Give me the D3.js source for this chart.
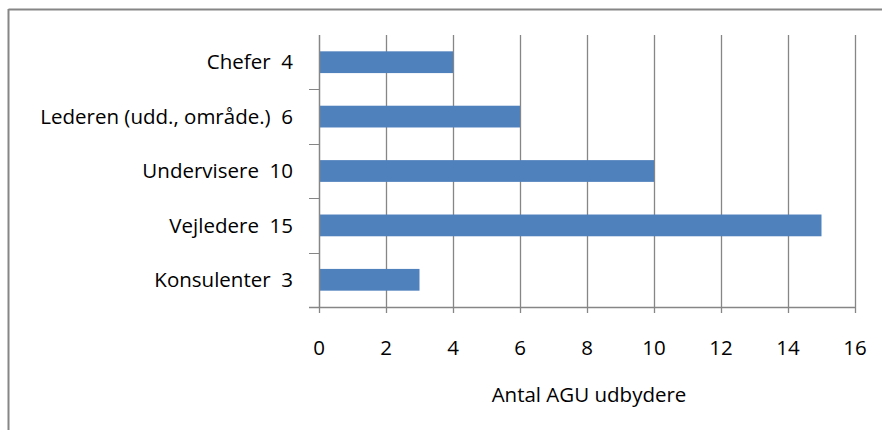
<!DOCTYPE html>
<html>
<head>
<meta charset="utf-8">
<script src="https://cdn.jsdelivr.net/npm/d3@7"></script>
<style>
  html, body { margin: 0; padding: 0; background: #fff; }
  svg { display: block; }
  text { font-family: "Open Sans", "DejaVu Sans", sans-serif; fill: #000; }
</style>
</head>
<body>
<svg id="chart" width="882" height="430"></svg>
<script>
// Category names and counts (top to bottom)
const categories = ["Chefer", "Lederen (udd., område.)", "Undervisere", "Vejledere", "Konsulenter"];
const counts = [4, 6, 10, 15, 3];
const xTicks = [0, 2, 4, 6, 8, 10, 12, 14, 16];
const xTitle = "Antal AGU udbydere";

const svg = d3.select("#chart");
const W = 882, H = 430;
const m = { left: 319, right: 27, top: 35, bottom: 123 };
const gridColor = "#868686";

// Outer frame: top and left edges
svg.append("line").attr("x1", 8.5).attr("x2", W).attr("y1", 9.5).attr("y2", 9.5)
  .attr("stroke", gridColor).attr("stroke-width", 2);
svg.append("line").attr("x1", 8.5).attr("x2", 8.5).attr("y1", 9).attr("y2", H)
  .attr("stroke", gridColor).attr("stroke-width", 2);

const x = d3.scaleLinear().domain([0, 16]).range([m.left, W - m.right]);
const y = d3.scaleBand().domain(categories).range([m.top, H - m.bottom]).paddingInner(0.6).paddingOuter(0.3);
const step = y.step();

// Vertical gridlines
svg.append("g").selectAll("line").data(xTicks.slice(1)).join("line")
  .attr("x1", d => Math.round(x(d)) + 0.5).attr("x2", d => Math.round(x(d)) + 0.5)
  .attr("y1", m.top).attr("y2", H - m.bottom)
  .attr("stroke", gridColor).attr("stroke-width", 1.3);

// Bars
svg.append("g").selectAll("rect").data(categories).join("rect")
  .attr("x", x(0)).attr("y", d => y(d))
  .attr("width", (d, i) => x(counts[i]) - x(0))
  .attr("height", y.bandwidth())
  .attr("fill", "#4F81BD");

// Category axis
const yBoundaries = d3.range(categories.length + 1).map(i => m.top + i * step);
svg.append("line").attr("x1", m.left + 0.5).attr("x2", m.left + 0.5)
  .attr("y1", m.top).attr("y2", H - m.bottom).attr("stroke", gridColor).attr("stroke-width", 1.5);
svg.append("g").selectAll("line").data(yBoundaries.slice(1)).join("line")
  .attr("x1", m.left - 10).attr("x2", m.left)
  .attr("y1", d => Math.round(d) + 0.5).attr("y2", d => Math.round(d) + 0.5)
  .attr("stroke", gridColor).attr("stroke-width", 1);
svg.append("g").selectAll("text").data(categories).join("text")
  .attr("x", m.left - 26)
  .attr("y", d => y(d) + y.bandwidth() / 2)
  .attr("dy", "0.35em")
  .attr("text-anchor", "end")
  .attr("font-size", 20.5)
  .style("white-space", "pre")
  .text((d, i) => d + "  " + counts[i]);

// Value axis
const axisY = H - m.bottom;
svg.append("line").attr("x1", m.left - 10).attr("x2", x(16) + 0.5)
  .attr("y1", axisY + 0.5).attr("y2", axisY + 0.5).attr("stroke", gridColor).attr("stroke-width", 1.5);
svg.append("g").selectAll("line").data(xTicks).join("line")
  .attr("x1", d => Math.round(x(d)) + 0.5).attr("x2", d => Math.round(x(d)) + 0.5)
  .attr("y1", axisY).attr("y2", axisY + 6)
  .attr("stroke", gridColor).attr("stroke-width", 1.3);
svg.append("g").selectAll("text").data(xTicks).join("text")
  .attr("x", d => x(d)).attr("y", axisY + 41)
  .attr("dy", "0.35em")
  .attr("text-anchor", "middle")
  .attr("font-size", 20.5)
  .text(d => d);

svg.append("text")
  .attr("x", (x(0) + x(16)) / 2 + 2).attr("y", axisY + 88)
  .attr("dy", "0.35em")
  .attr("text-anchor", "middle")
  .attr("font-size", 20.5)
  .text(xTitle);
</script>
</body>
</html>
